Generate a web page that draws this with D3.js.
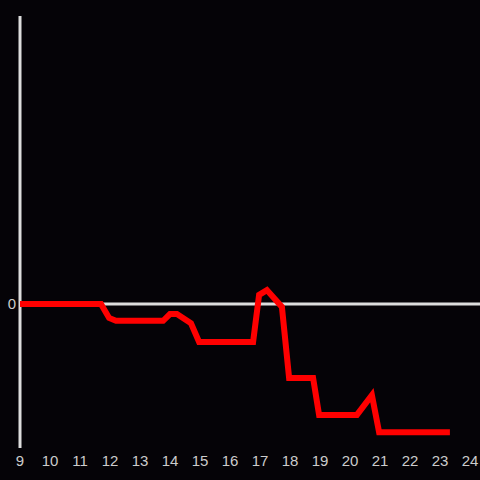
<!DOCTYPE html>
<html><head><meta charset="utf-8">
<script src="https://cdn.jsdelivr.net/npm/d3@7"></script>
<style>html,body{margin:0;padding:0;background:#050307;}svg{display:block;}</style>
</head><body>
<script>
const hours = [9, 11.7, 11.97, 12.2, 13.77, 14.0, 14.23, 14.7, 14.97, 16.77, 16.97, 17.23, 17.73, 17.97, 18.77, 18.97, 20.23, 20.73, 20.97, 23.33];
const values = [0, 0, -0.29, -0.35, -0.35, -0.21, -0.21, -0.4, -0.79, -0.79, 0.19, 0.29, -0.06, -1.54, -1.54, -2.31, -2.31, -1.9, -2.67, -2.67];
const xTicks = [9,10,11,12,13,14,15,16,17,18,19,20,21,22,23,24];
const yTicks = [0];

const W = 480, H = 480;
const svg = d3.select("body").append("svg").attr("width", W).attr("height", H);
svg.append("rect").attr("width", W).attr("height", H).attr("fill", "#050307");

const x = d3.scaleLinear().domain([9, 24]).range([20, 470]);
const y = d3.scaleLinear().domain([-3, 6]).range([448, 16]);

// zero line
svg.append("line").attr("x1", x(9)).attr("x2", 480).attr("y1", y(0)).attr("y2", y(0))
  .attr("stroke", "#dddddd").attr("stroke-width", 3);
// y axis line
svg.append("line").attr("x1", x(9)).attr("x2", x(9)).attr("y1", y(6)).attr("y2", y(-3))
  .attr("stroke", "#dddddd").attr("stroke-width", 3);

// x tick labels
svg.append("g").selectAll("text").data(xTicks).join("text")
  .attr("x", d => x(d)).attr("y", 466)
  .attr("text-anchor", "middle")
  .attr("font-family", "Liberation Sans, Arial, sans-serif").attr("font-size", 15)
  .attr("fill", "#cccccc").text(d => d);

svg.append("g").selectAll("text").data(yTicks).join("text")
  .attr("x", 16).attr("y", y(0)).attr("dy", "0.35em")
  .attr("text-anchor", "end")
  .attr("font-family", "Liberation Sans, Arial, sans-serif").attr("font-size", 15)
  .attr("fill", "#cccccc").text(d => d);

const pts = hours.map((h, i) => [h, values[i]]);
svg.append("path").datum(pts)
  .attr("d", d3.line().x(d => x(d[0])).y(d => y(d[1])))
  .attr("fill", "none").attr("stroke", "#ff0000").attr("stroke-width", 6);
</script>
</body></html>
